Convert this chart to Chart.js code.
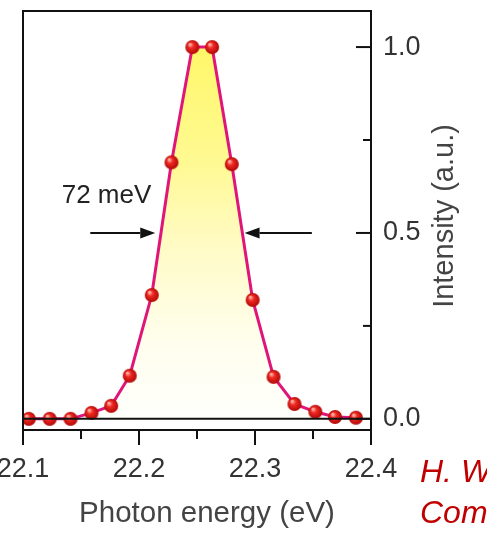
<!DOCTYPE html>
<html>
<head>
<meta charset="utf-8">
<script src="https://cdn.jsdelivr.net/npm/chart.js@4/dist/chart.umd.min.js"></script>
<style>
  html, body { margin: 0; padding: 0; background: #fff; }
  #wrap { width: 487px; height: 534px; }
</style>
</head>
<body>
<div id="wrap"><canvas id="spectre" width="487" height="534"></canvas></div>
<script>
// Spectre mesuré : intensité normalisée en fonction de l'énergie de photon

const energie = [22.105, 22.123, 22.141, 22.159, 22.176, 22.192, 22.211, 22.228, 22.246,
                 22.263, 22.280, 22.298, 22.316, 22.334, 22.352, 22.369, 22.387];
const intensite = [0.0, 0.0, 0.0, 0.016, 0.035, 0.116, 0.333, 0.69, 1.0,
                   1.0, 0.685, 0.32, 0.113, 0.04, 0.019, 0.005, 0.003];

const ticksX = [22.1, 22.15, 22.2, 22.25, 22.3, 22.35, 22.4];
const labelsX = ["22.1", "", "22.2", "", "22.3", "", "22.4"];
const ticksY = [0, 0.25, 0.5, 0.75, 1.0];
const labelsY = ["0.0", "", "0.5", "", "1.0"];

// largeur à mi-hauteur : deux flèches horizontales à y = 0.5
const flecheGauche = [22.158, 22.214];
const flecheDroite = [22.349, 22.291];
const flecheY = 0.5;
const texteLargeur = "72 meV";
const posTexteLargeur = [22.172, 0.58];

const titreX = "Photon energy (eV)";
const titreY = "Intensity (a.u.)";
const reference = ["H. W", "Com"];

const police = '"Liberation Sans", Arial, Helvetica, sans-serif';

// petite bille rouge utilisée comme marqueur
function bille(r) {
  const c = document.createElement("canvas");
  const s = Math.ceil(r * 2 + 2);
  c.width = c.height = s;
  const g = c.getContext("2d");
  const m = s / 2;
  const grad = g.createRadialGradient(m - r * 0.35, m - r * 0.4, r * 0.1, m, m, r);
  grad.addColorStop(0, "#ffb4a8");
  grad.addColorStop(0.35, "#f02a22");
  grad.addColorStop(1, "#b00808");
  g.fillStyle = grad;
  g.beginPath();
  g.arc(m, m, r, 0, Math.PI * 2);
  g.fill();
  return c;
}

function fleche(ctx, x0, x1, y) {
  const dir = Math.sign(x1 - x0);
  const tete = 15;
  ctx.beginPath();
  ctx.moveTo(x0, y);
  ctx.lineTo(x1 - dir * tete, y);
  ctx.stroke();
  ctx.beginPath();
  ctx.moveTo(x1, y);
  ctx.lineTo(x1 - dir * tete, y - 5.5);
  ctx.lineTo(x1 - dir * tete, y + 5.5);
  ctx.closePath();
  ctx.fill();
}

// cadre, graduations, flèches et textes
const decor = {
  id: "decor",
  afterDatasetsDraw(chart) {
    const { ctx, chartArea: a, scales } = chart;
    const sx = scales.x, sy = scales.y;
    ctx.save();
    ctx.strokeStyle = "#111";
    ctx.fillStyle = "#111";
    ctx.lineWidth = 2;

    // ligne de base à zéro
    const y0 = sy.getPixelForValue(0);
    ctx.beginPath();
    ctx.moveTo(a.left, y0);
    ctx.lineTo(a.right, y0);
    ctx.stroke();

    ctx.strokeRect(a.left, a.top, a.right - a.left, a.bottom - a.top);

    ticksX.forEach((v, i) => {
      const px = sx.getPixelForValue(v);
      const l = labelsX[i] ? 15 : 9;
      ctx.beginPath();
      ctx.moveTo(px, a.bottom);
      ctx.lineTo(px, a.bottom + l);
      ctx.stroke();
    });
    ticksY.forEach((v, i) => {
      const py = sy.getPixelForValue(v);
      const l = labelsY[i] ? 15 : 8;
      ctx.beginPath();
      ctx.moveTo(a.right, py);
      ctx.lineTo(a.right - l, py);
      ctx.stroke();
    });

    const fy = sy.getPixelForValue(flecheY);
    fleche(ctx, sx.getPixelForValue(flecheGauche[0]), sx.getPixelForValue(flecheGauche[1]), fy);
    fleche(ctx, sx.getPixelForValue(flecheDroite[0]), sx.getPixelForValue(flecheDroite[1]), fy);

    ctx.fillStyle = "#222";
    ctx.font = "26px " + police;
    ctx.textAlign = "center";
    ctx.textBaseline = "alphabetic";
    ctx.fillText(texteLargeur, sx.getPixelForValue(posTexteLargeur[0]), sy.getPixelForValue(posTexteLargeur[1]));

    // titres des axes
    ctx.fillStyle = "#444";
    ctx.font = "29.5px " + police;
    ctx.fillText(titreX, 207, 522);
    ctx.font = "29px " + police;
    ctx.save();
    ctx.translate(453, 216);
    ctx.rotate(-Math.PI / 2);
    ctx.fillText(titreY, 0, 0);
    ctx.restore();

    ctx.fillStyle = "#c00000";
    ctx.textAlign = "left";
    ctx.font = "italic 32px " + police;
    ctx.fillText(reference[0], 420, 482);
    ctx.fillText(reference[1], 420, 523);
    ctx.restore();
  }
};

const ctx = document.getElementById("spectre").getContext("2d");
new Chart(ctx, {
  type: "line",
  data: {
    datasets: [{
      data: energie.map((x, i) => ({ x: x, y: intensite[i] })),
      borderColor: "#e0157a",
      borderWidth: 3,
      tension: 0,
      pointStyle: bille(7),
      fill: "origin",
      backgroundColor: (c) => {
        const { chart } = c;
        if (!chart.chartArea) return "rgba(255,250,150,0.6)";
        const yHaut = chart.scales.y.getPixelForValue(1);
        const yBas = chart.scales.y.getPixelForValue(0);
        const g = chart.ctx.createLinearGradient(0, yHaut, 0, yBas);
        g.addColorStop(0, "rgb(255,247,105)");
        g.addColorStop(0.3, "rgb(255,249,145)");
        g.addColorStop(0.55, "rgb(255,251,200)");
        g.addColorStop(0.8, "rgb(255,254,238)");
        g.addColorStop(1, "rgb(255,255,252)");
        return g;
      }
    }]
  },
  options: {
    responsive: false,
    animation: false,
    layout: { padding: { left: 23, top: 11, right: 0, bottom: 0 } },
    plugins: { legend: { display: false }, tooltip: { enabled: false } },
    scales: {
      x: {
        type: "linear",
        position: "bottom",
        min: 22.1,
        max: 22.4,
        grid: { display: false, drawTicks: false },
        border: { display: false },
        afterBuildTicks: (s) => { s.ticks = ticksX.map(v => ({ value: v })); },
        ticks: {
          autoSkip: false,
          maxRotation: 0,
          padding: 23,
          color: "#333",
          font: { family: police, size: 27 },
          callback: (v, i) => labelsX[i]
        },
        afterFit: (s) => { s.height = 104; s.paddingLeft = 0; s.paddingRight = 0; }
      },
      y: {
        type: "linear",
        position: "right",
        min: -0.03,
        max: 1.097,
        grid: { display: false, drawTicks: false },
        border: { display: false },
        afterBuildTicks: (s) => { s.ticks = ticksY.map(v => ({ value: v })); },
        ticks: {
          autoSkip: false,
          padding: 12,
          color: "#333",
          font: { family: police, size: 27 },
          callback: (v, i) => labelsY[i]
        },
        afterFit: (s) => { s.width = 116; s.paddingTop = 0; s.paddingBottom = 0; }
      }
    }
  },
  plugins: [decor]
});
</script>
</body>
</html>
